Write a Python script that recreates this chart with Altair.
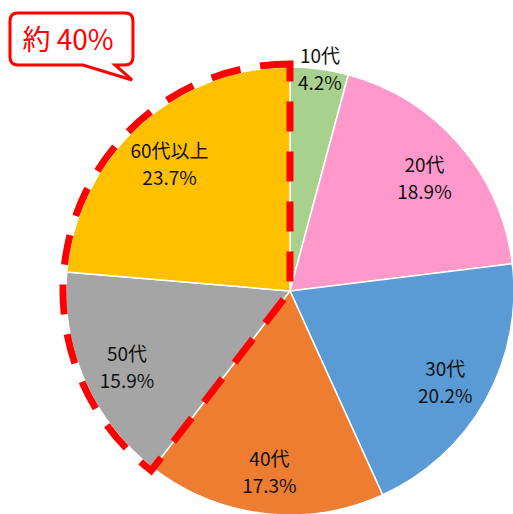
import altair as alt
import pandas as pd

categories = ["10代", "20代", "30代", "40代", "50代", "60代以上"]
shares = [4.2, 18.9, 20.2, 17.3, 15.9, 23.7]
colors = ["#A9D18E", "#FF99CC", "#5B9BD5", "#ED7D31", "#A5A5A5", "#FFC000"]
highlight = ["50代", "60代以上"]
callout_text = ["約 40%"]

df = pd.DataFrame({
    "cat": categories,
    "share": shares,
    "idx": list(range(len(categories))),
    "hl": [c in highlight for c in categories],
})
total = float(sum(shares))

CX, CY, R = 290, 291, 224
tscale = alt.Scale(domain=[0, total], range=[0, 6.283185307179586])

base = alt.Chart(df)

pie = base.mark_arc(radius=R, stroke="white", strokeWidth=1.5).encode(
    theta=alt.Theta("share:Q", stack=True, scale=tscale),
    order=alt.Order("idx:Q"),
    color=alt.Color("cat:N", scale=alt.Scale(domain=categories, range=colors), legend=None),
    x=alt.value(CX), y=alt.value(CY),
)

dashed = base.transform_calculate(
    grp="datum.hl ? 'b' : 'a'"
).transform_aggregate(
    share="sum(share)", groupby=["grp"]
).mark_arc(
    radius=227, filled=False, stroke="#FF0000", strokeWidth=7, strokeDash=[30, 20]
).encode(
    theta=alt.Theta("share:Q", stack=True, scale=tscale),
    order=alt.Order("grp:N"),
    strokeOpacity=alt.condition("datum.grp == 'b'", alt.value(1), alt.value(0)),
    x=alt.value(CX), y=alt.value(CY),
)

labels = base.transform_window(
    cum="sum(share)", sort=[alt.SortField("idx", order="ascending")],
    frame=[None, 0],
).transform_calculate(
    mid="datum.cum - datum.share / 2",
    label="datum.cat + '\\n' + format(datum.share, '.1f') + '%'",
    r="datum.share < 5 ? 228 : 178",
).mark_text(
    lineBreak="\n", fontSize=19, lineHeight=27, font="Noto Sans CJK JP",
    color="#111111", align="center", baseline="middle", dy=-8,
).encode(
    theta=alt.Theta("mid:Q", stack=None, scale=tscale),
    radius=alt.Radius("r:Q", scale=None),
    text="label:N",
    x=alt.value(CX), y=alt.value(CY),
)

bubble_path = (
    "M -0.83 -0.508 L 0.815 -0.508 Q 0.938 -0.508 0.938 -0.385 "
    "L 0.938 0.169 Q 0.938 0.292 0.815 0.292 L 0.662 0.292 L 0.923 0.523 "
    "L 0.169 0.292 L -0.83 0.292 Q -0.954 0.292 -0.954 0.169 "
    "L -0.954 -0.385 Q -0.954 -0.508 -0.83 -0.508 Z"
)

cdf = pd.DataFrame({"t": callout_text})
bubble = alt.Chart(cdf).mark_point(
    shape=bubble_path, filled=True, fill="white", stroke="#FF0000",
    strokeWidth=3, opacity=1, fillOpacity=1, strokeOpacity=1, size=16900,
).encode(x=alt.value(72), y=alt.value(46))

btext = alt.Chart(cdf).mark_text(
    fontSize=28, font="Noto Sans CJK JP", color="#FF0000",
    align="center", baseline="middle",
).encode(text="t:N", x=alt.value(68), y=alt.value(42))

chart = alt.layer(pie, dashed, labels, bubble, btext).properties(
    width=513, height=514, padding=0, autosize="none"
).configure_view(stroke=None)

chart.save("out.html", embed_options={"renderer": "svg", "actions": False})
